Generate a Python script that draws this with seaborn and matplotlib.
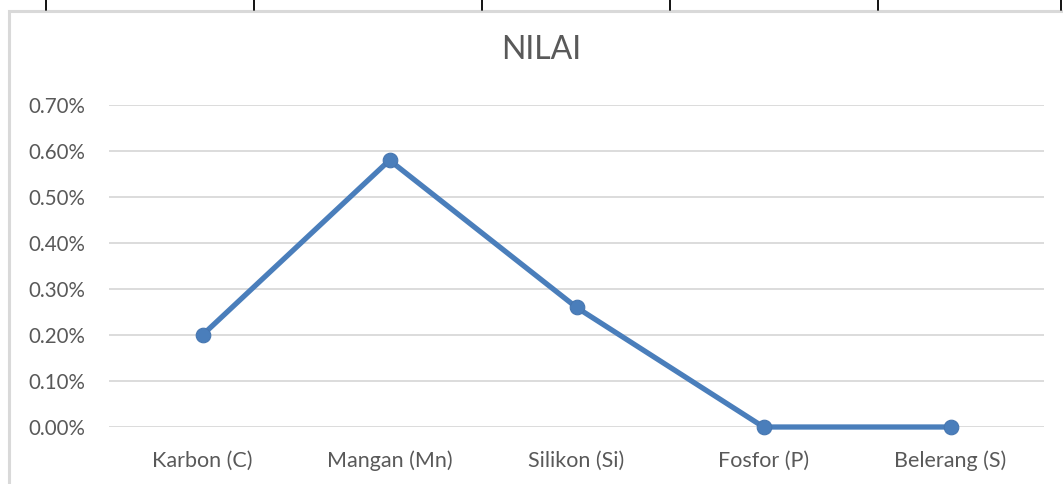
import matplotlib
matplotlib.use("Agg")
import matplotlib.pyplot as plt
from matplotlib.lines import Line2D
from matplotlib.patches import Rectangle
from matplotlib.ticker import FuncFormatter, MultipleLocator
import seaborn as sns
import pandas as pd

# Element content of the sample
unsur = ["Karbon (C)", "Mangan (Mn)", "Silikon (Si)", "Fosfor (P)", "Belerang (S)"]
nilai = [0.0020, 0.0058, 0.0026, 0.0000, 0.0000]

df = pd.DataFrame({"Unsur": unsur, "Nilai": nilai})

sns.set_theme(style="white")
plt.rcParams["font.family"] = ["Lato", "DejaVu Sans"]

W, H = 1063, 484
fig = plt.figure(figsize=(W / 100, H / 100), dpi=100)
fig.patch.set_facecolor("white")

# chart frame and the cell borders above it
fig.add_artist(Rectangle((9 / W, -0.1), 1.2, 1 - 11 / H + 0.1, transform=fig.transFigure,
                         fill=False, edgecolor="#d9d9d9", linewidth=2.2))
for xp in [46, 254, 482, 670, 878, 1061]:
    fig.add_artist(Line2D([xp / W, xp / W], [1, 1 - 10 / H], transform=fig.transFigure,
                          color="black", linewidth=1.3))

left, right = 109 / W, 1044 / W
bottom, top = 1 - 427 / H, 1 - 105 / H
ax = fig.add_axes([left, bottom, right - left, top - bottom])

blue = "#4a7ebb"
sns.lineplot(data=df, x="Unsur", y="Nilai", ax=ax, color=blue, linewidth=3.8,
             marker="o", markersize=10.5, markerfacecolor=blue,
             markeredgecolor="#4676b0", markeredgewidth=0.8, sort=False)

ax.set_xlim(-0.5, len(unsur) - 0.5)
ax.set_ylim(0, 0.007)
ax.yaxis.set_major_locator(MultipleLocator(0.001))
ax.yaxis.set_major_formatter(FuncFormatter(lambda v, p: f"{v * 100:.2f}%"))
ax.grid(axis="y", color="#d9d9d9", linewidth=1.3)
ax.grid(axis="x", visible=False)
ax.set_axisbelow(True)
for s in ax.spines.values():
    s.set_visible(False)
ax.set_xlabel("")
ax.set_ylabel("")
ax.tick_params(axis="both", length=0, labelcolor="#595959")
ax.tick_params(axis="y", labelsize=14.8, pad=17)
ax.tick_params(axis="x", labelsize=15.5, pad=17)
for line in ax.lines:
    line.set_clip_on(False)

fig.text(541 / W, 1 - 50 / H, "NILAI", ha="center", va="center",
         fontsize=23, color="#595959")

fig.savefig("out.png", dpi=100, facecolor="white")
